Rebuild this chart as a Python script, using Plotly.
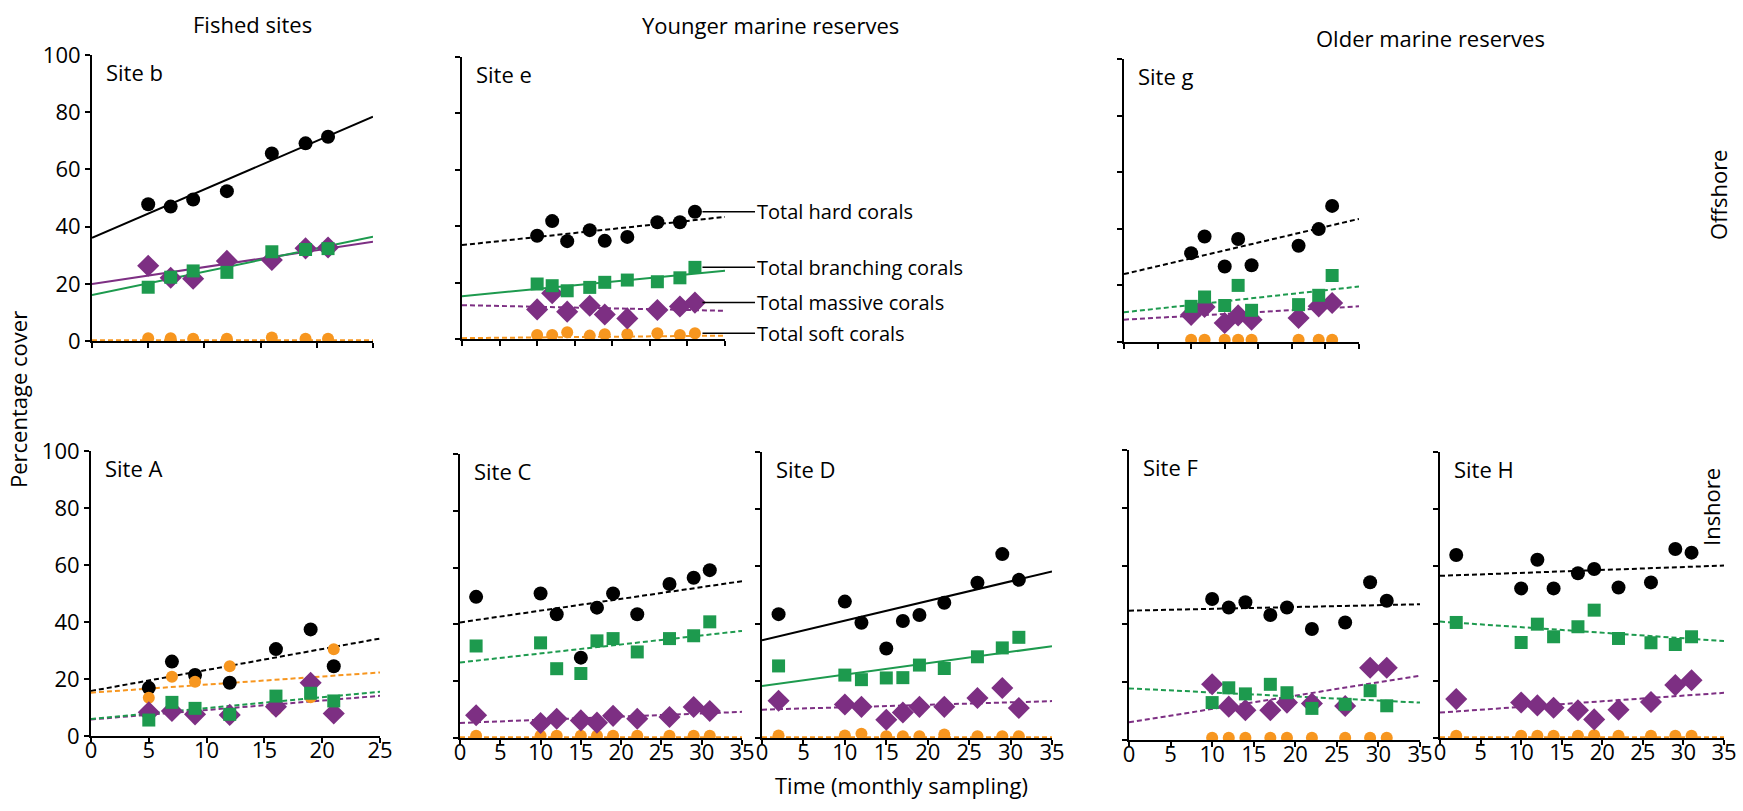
import plotly.graph_objects as go

W, H = 1743, 811
FONT = "Open Sans"

BLACK = "#000000"
GREEN = "#1d9a4e"
PURPLE = "#7d2f83"
ORANGE = "#f7961f"

# ---- sampling months per site ----
months_b = [5, 7, 9, 12, 16, 19, 21]
months_e = [10, 12, 14, 17, 19, 22, 26, 29, 31]
months_g = [10, 12, 15, 17, 19, 26, 29, 31]
months_A = [5, 7, 9, 12, 16, 19, 21]
months_C = [2, 10, 12, 15, 17, 19, 22, 26, 29, 31]
months_D = [2, 10, 12, 15, 17, 19, 22, 26, 29, 31]
months_F = [10, 12, 14, 17, 19, 22, 26, 29, 31]
months_H = [2, 10, 12, 14, 17, 19, 22, 26, 29, 31]

# ---- percentage cover: hard, branching, massive, soft ----
hard_b = [47.8, 47.0, 49.5, 52.4, 65.6, 69.1, 71.4]
branch_b = [18.8, 22.3, 24.5, 24.0, 31.2, 32.0, 32.3]
massive_b = [26.3, 22.1, 21.8, 28.0, 28.3, 32.4, 32.7]
soft_b = [1.0, 1.0, 0.8, 0.8, 1.2, 0.8, 0.8]

hard_e = [36.6, 41.8, 34.7, 38.6, 34.8, 36.2, 41.4, 41.4, 45.1]
branch_e = [19.5, 18.9, 17.1, 18.3, 20.1, 20.9, 20.3, 21.7, 25.4]
massive_e = [10.5, 16.2, 9.7, 11.8, 8.7, 7.3, 10.3, 11.5, 12.9]
soft_e = [1.4, 1.4, 2.4, 1.2, 1.7, 1.7, 2.0, 1.4, 2.0]

hard_g = [31.4, 37.3, 26.7, 36.4, 27.1, 34.0, 39.9, 48.1]
branch_g = [12.6, 15.9, 12.9, 20.0, 11.2, 13.2, 16.5, 23.5]
massive_g = [9.6, 12.4, 6.7, 9.4, 7.9, 8.5, 12.6, 13.8]
soft_g = [0.8, 0.8, 0.8, 0.8, 0.8, 0.8, 0.8, 0.8]

hard_A = [16.9, 26.1, 21.4, 18.7, 30.5, 37.4, 24.5]
branch_A = [5.6, 11.8, 9.7, 7.6, 14.0, 15.0, 12.3]
massive_A = [8.3, 8.8, 7.6, 7.4, 10.3, 18.7, 7.9]
soft_A = [13.4, 20.8, 19.0, 24.5, 9.3, 13.6, 30.4]

hard_C = [49.7, 50.9, 43.6, 28.3, 45.9, 50.9, 43.6, 54.2, 56.4, 59.1]
branch_C = [32.4, 33.5, 24.4, 22.7, 34.2, 35.0, 30.3, 35.0, 36.0, 40.9]
massive_C = [8.0, 5.3, 6.8, 6.2, 5.4, 7.8, 6.8, 7.4, 10.9, 9.5]
soft_C = [0.8, 0.8, 0.8, 0.8, 0.8, 0.8, 0.8, 0.8, 0.8, 0.8]

hard_D = [43.3, 47.7, 40.3, 31.3, 40.9, 43.0, 47.3, 54.3, 64.3, 55.3]
branch_D = [25.2, 22.0, 20.4, 21.0, 21.1, 25.5, 24.3, 28.4, 31.5, 35.2]
massive_D = [13.0, 11.7, 10.9, 6.4, 8.9, 10.9, 10.9, 14.0, 17.5, 10.5]
soft_D = [0.9, 0.9, 1.5, 0.6, 0.6, 0.6, 1.2, 0.6, 0.6, 0.6]

hard_F = [48.6, 45.7, 47.5, 43.1, 45.7, 38.3, 40.5, 54.4, 48.0]
branch_F = [12.9, 18.0, 15.9, 19.2, 16.3, 10.9, 12.3, 17.0, 11.8]
massive_F = [19.2, 11.5, 10.3, 10.3, 12.9, 12.6, 11.7, 24.9, 24.9]
soft_F = [0.8, 0.8, 0.8, 0.8, 0.8, 0.8, 0.8, 0.8, 0.8]

hard_H = [64.0, 52.3, 62.3, 52.3, 57.6, 59.1, 52.6, 54.4, 66.1, 64.8]
branch_H = [40.4, 33.4, 39.8, 35.4, 38.9, 44.7, 34.8, 33.3, 32.7, 35.4]
massive_H = [13.6, 12.4, 11.4, 10.6, 9.7, 6.5, 9.9, 12.6, 18.5, 20.2]
soft_H = [0.8, 0.8, 0.8, 0.8, 0.8, 1.0, 0.8, 0.8, 0.8, 0.8]

# ---- fitted trends: value at start and end of the time axis ----
trend_b = {"hard": [36.1, 78.4], "branch": [16.1, 36.5], "massive": [19.9, 34.7], "soft": [0.3, 0.3]}
trend_e = {"hard": [33.3, 43.3], "branch": [15.2, 24.2], "massive": [12.0, 10.0], "soft": [0.3, 1.2]}
trend_g = {"hard": [24.0, 43.5], "branch": [10.5, 19.6], "massive": [7.9, 12.6], "soft": None}
trend_A = {"hard": [15.8, 34.2], "branch": [6.0, 15.5], "massive": [5.8, 14.1], "soft": [15.2, 22.3]}
trend_C = {"hard": [40.7, 55.2], "branch": [26.6, 37.7], "massive": [5.3, 9.2], "soft": [0.3, 0.3]}
trend_D = {"hard": [34.2, 58.2], "branch": [18.2, 32.1], "massive": [9.9, 12.9], "soft": [0.3, 0.3]}
trend_F = {"hard": [44.6, 46.8], "branch": [17.8, 12.9], "massive": [6.1, 22.2], "soft": None}
trend_H = {"hard": [56.7, 60.3], "branch": [40.7, 33.9], "massive": [8.9, 15.8], "soft": [0.3, 0.3]}

# significant trends are solid, the rest dashed
solid_b = {"hard", "branch", "massive"}
solid_e = {"branch"}
solid_D = {"hard", "branch"}

y_ticks = [0, 20, 40, 60, 80, 100]
series_legend = ["Total hard corals", "Total branching corals", "Total massive corals", "Total soft corals"]

# panel boxes in pixels: left, right, top, bottom
panels = [
    dict(name="Site b", box=(92, 373, 55, 341), xmax=25, t=months_b,
         v=dict(hard=hard_b, branch=branch_b, massive=massive_b, soft=soft_b), tr=trend_b, solid=solid_b,
         ylab=True, xlab=False),
    dict(name="Site e", box=(462, 725, 57, 339), xmax=35, t=months_e,
         v=dict(hard=hard_e, branch=branch_e, massive=massive_e, soft=soft_e), tr=trend_e, solid=solid_e,
         ylab=False, xlab=False),
    dict(name="Site g", box=(1124, 1359, 59, 342), xmax=35, t=months_g,
         v=dict(hard=hard_g, branch=branch_g, massive=massive_g, soft=soft_g), tr=trend_g, solid=set(),
         ylab=False, xlab=False),
    dict(name="Site A", box=(91, 380, 451, 736), xmax=25, t=months_A,
         v=dict(hard=hard_A, branch=branch_A, massive=massive_A, soft=soft_A), tr=trend_A, solid=set(),
         ylab=True, xlab=True),
    dict(name="Site C", box=(460, 742, 454, 738), xmax=35, t=months_C,
         v=dict(hard=hard_C, branch=branch_C, massive=massive_C, soft=soft_C), tr=trend_C, solid=set(),
         ylab=False, xlab=True),
    dict(name="Site D", box=(762, 1052, 452, 738), xmax=35, t=months_D,
         v=dict(hard=hard_D, branch=branch_D, massive=massive_D, soft=soft_D), tr=trend_D, solid=solid_D,
         ylab=False, xlab=True),
    dict(name="Site F", box=(1129, 1420, 450, 740), xmax=35, t=months_F,
         v=dict(hard=hard_F, branch=branch_F, massive=massive_F, soft=soft_F), tr=trend_F, solid=set(),
         ylab=False, xlab=True),
    dict(name="Site H", box=(1440, 1724, 452, 738), xmax=35, t=months_H,
         v=dict(hard=hard_H, branch=branch_H, massive=massive_H, soft=soft_H), tr=trend_H, solid=set(),
         ylab=False, xlab=True),
]

style = {
    "hard": dict(color=BLACK, symbol="circle", size=14),
    "soft": dict(color=ORANGE, symbol="circle", size=12),
    "massive": dict(color=PURPLE, symbol="diamond", size=17),
    "branch": dict(color=GREEN, symbol="square", size=13),
}
draw_order = ["hard", "soft", "massive", "branch"]


def px_x(px):
    return px / W


def px_y(py):
    return 1 - py / H


fig = go.Figure()
layout = dict(
    template="none",
    width=W, height=H, margin=dict(l=0, r=0, t=0, b=0, autoexpand=False),
    paper_bgcolor="white", plot_bgcolor="white",
    showlegend=False, font=dict(family=FONT, size=22, color="black"),
)
annotations = []
shapes = []

for i, p in enumerate(panels):
    k = "" if i == 0 else str(i + 1)
    xa, ya = "x" + k, "y" + k
    left, right, top, bottom = p["box"]
    layout["xaxis" + k] = dict(
        domain=[px_x(left), px_x(right)], range=[0, p["xmax"]], anchor=ya,
        tickmode="array", tickvals=list(range(0, p["xmax"] + 1, 5)),
        ticks="outside", ticklen=5, tickwidth=2, tickcolor="black",
        showline=True, linecolor="black", linewidth=2, automargin=False,
        showgrid=False, zeroline=False, showticklabels=p["xlab"],
        ticklabelstandoff=-11,
        tickfont=dict(family=FONT, size=22, color="black"), fixedrange=True,
    )
    layout["yaxis" + k] = dict(
        domain=[px_y(bottom), px_y(top)], range=[0, 100], anchor=xa,
        tickmode="array", tickvals=y_ticks,
        ticks="outside", ticklen=5, tickwidth=2, tickcolor="black",
        showline=True, linecolor="black", linewidth=2, automargin=False,
        showgrid=False, zeroline=False, showticklabels=p["ylab"],
        tickfont=dict(family=FONT, size=22, color="black"), fixedrange=True,
    )
    # trend lines
    for s in draw_order:
        tr = p["tr"][s]
        if tr is None:
            continue
        fig.add_trace(go.Scatter(
            x=[0, p["xmax"]], y=tr, xaxis=xa, yaxis=ya, mode="lines",
            line=dict(color=style[s]["color"], width=2,
                      dash="solid" if s in p["solid"] else "5px,3px"),
            hoverinfo="skip",
        ))
    # observations
    for s in draw_order:
        st = style[s]
        fig.add_trace(go.Scatter(
            x=p["t"], y=p["v"][s], xaxis=xa, yaxis=ya, mode="markers",
            marker=dict(color=st["color"], symbol=st["symbol"], size=st["size"],
                        line=dict(width=0)),
            cliponaxis=True,
        ))
    annotations.append(dict(
        text=p["name"], xref="paper", yref="paper",
        x=px_x(left + 12), y=px_y(top + 17), xanchor="left", yanchor="middle",
        showarrow=False, font=dict(family=FONT, size=22),
    ))

# series key beside Site e, joined to the last sample of each series
pe = panels[1]
key_start = pe["box"][0] + (pe["t"][-1] + 1.0) * (pe["box"][1] - pe["box"][0]) / pe["xmax"]
for s, label in zip(["hard", "branch", "massive", "soft"], series_legend):
    yv = pe["v"][s][-1]
    shapes.append(dict(type="line", xref="paper", yref="y2",
                       x0=px_x(key_start), x1=px_x(755), y0=yv, y1=yv,
                       line=dict(color="black", width=1.5)))
    annotations.append(dict(
        text=label, xref="paper", yref="y2", x=px_x(755), y=yv,
        xanchor="left", yanchor="middle", showarrow=False,
        font=dict(family=FONT, size=20),
    ))

# column and row headings
for txt, cx, cy in [("Fished sites", 252, 24), ("Younger marine reserves", 770, 25),
                    ("Older marine reserves", 1430, 38)]:
    annotations.append(dict(text=txt, xref="paper", yref="paper", x=px_x(cx), y=px_y(cy),
                            xanchor="center", yanchor="middle", showarrow=False,
                            font=dict(family=FONT, size=22)))
for txt, cx, cy in [("Offshore", 1718, 195), ("Inshore", 1711, 507)]:
    annotations.append(dict(text=txt, xref="paper", yref="paper", x=px_x(cx), y=px_y(cy),
                            xanchor="center", yanchor="middle", showarrow=False, textangle=-90,
                            font=dict(family=FONT, size=22)))
annotations.append(dict(text="Percentage cover", xref="paper", yref="paper", x=px_x(18), y=px_y(400),
                        xanchor="center", yanchor="middle", showarrow=False, textangle=-90,
                        font=dict(family=FONT, size=22)))
annotations.append(dict(text="Time (monthly sampling)", xref="paper", yref="paper", x=px_x(901), y=px_y(785),
                        xanchor="center", yanchor="middle", showarrow=False,
                        font=dict(family=FONT, size=22)))

layout["annotations"] = annotations
layout["shapes"] = shapes
fig.update_layout(**layout)
fig.write_html("out.html")
